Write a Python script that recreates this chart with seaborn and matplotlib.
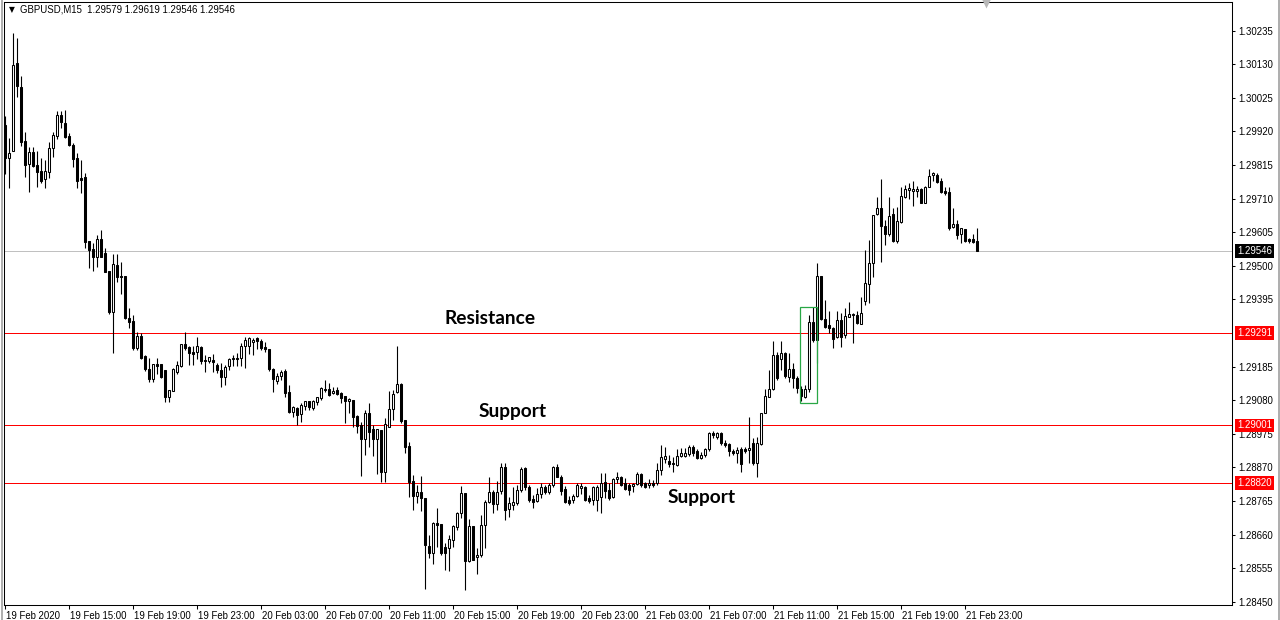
import numpy as np
import pandas as pd
import matplotlib
matplotlib.use("Agg")
import matplotlib.pyplot as plt
import matplotlib.transforms as mtransforms
from matplotlib.patches import Rectangle
from matplotlib.lines import Line2D
import seaborn as sns

# ---------------- data (GBPUSD M15, 19 Feb 2020 11:00 -> 21 Feb 2020 23:45) ----------------
header_text = "GBPUSD,M15  1.29579 1.29619 1.29546 1.29546"

opens = [
    1.29940, 1.29838, 1.29860, 1.30133, 1.30059, 1.29890, 1.29817, 1.29855, 1.29815, 1.29796,
    1.29770, 1.29794, 1.29867, 1.29907, 1.29971, 1.29946, 1.29906, 1.29878, 1.29836, 1.29774,
    1.29779, 1.29578, 1.29553, 1.29529, 1.29583, 1.29539, 1.29484, 1.29355, 1.29503, 1.29469,
    1.29468, 1.29336, 1.29328, 1.29244, 1.29282, 1.29218, 1.29177, 1.29145, 1.29192, 1.29192,
    1.29174, 1.29091, 1.29110, 1.29169, 1.29188, 1.29255, 1.29247, 1.29230, 1.29230, 1.29247,
    1.29206, 1.29202, 1.29206, 1.29190, 1.29174, 1.29153, 1.29188, 1.29208, 1.29211, 1.29211,
    1.29250, 1.29250, 1.29261, 1.29274, 1.29265, 1.29247, 1.29240, 1.29177, 1.29141, 1.29157,
    1.29172, 1.29106, 1.29042, 1.29055, 1.29036, 1.29062, 1.29078, 1.29055, 1.29075, 1.29086,
    1.29112, 1.29114, 1.29102, 1.29112, 1.29102, 1.29094, 1.29079, 1.29081, 1.29031, 1.29002,
    1.28958, 1.29039, 1.28989, 1.28960, 1.28987, 1.28857, 1.28997, 1.29053, 1.29106, 1.29131,
    1.29018, 1.28937, 1.28828, 1.28781, 1.28792, 1.28773, 1.28624, 1.28603, 1.28697, 1.28692,
    1.28620, 1.28617, 1.28643, 1.28685, 1.28726, 1.28789, 1.28578, 1.28687, 1.28589, 1.28596,
    1.28690, 1.28763, 1.28794, 1.28756, 1.28797, 1.28870, 1.28739, 1.28752, 1.28758, 1.28799,
    1.28867, 1.28810, 1.28770, 1.28766, 1.28787, 1.28810, 1.28794, 1.28815, 1.28870, 1.28841,
    1.28801, 1.28768, 1.28768, 1.28781, 1.28805, 1.28810, 1.28773, 1.28768, 1.28768, 1.28776,
    1.28825, 1.28799, 1.28776, 1.28833, 1.28839, 1.28820, 1.28815, 1.28813, 1.28818, 1.28849,
    1.28822, 1.28815, 1.28822, 1.28820, 1.28862, 1.28895, 1.28891, 1.28885, 1.28877, 1.28906,
    1.28906, 1.28912, 1.28935, 1.28922, 1.28898, 1.28909, 1.28927, 1.28978, 1.28964, 1.28978,
    1.28947, 1.28943, 1.28922, 1.28915, 1.28927, 1.28927, 1.28924, 1.28947, 1.28883, 1.28942,
    1.29041, 1.29091, 1.29114, 1.29221, 1.29208, 1.29228, 1.29153, 1.29177, 1.29148, 1.29115,
    1.29091, 1.29114, 1.29325, 1.29268, 1.29468, 1.29333, 1.29315, 1.29305, 1.29279, 1.29331,
    1.29284, 1.29341, 1.29345, 1.29346, 1.29318, 1.29391, 1.29443, 1.29508, 1.29662, 1.29680,
    1.29625, 1.29600, 1.29662, 1.29579, 1.29638, 1.29714, 1.29737, 1.29735, 1.29735, 1.29739,
    1.29697, 1.29747, 1.29784, 1.29784, 1.29766, 1.29735, 1.29732, 1.29620, 1.29631, 1.29600,
    1.29614, 1.29583, 1.29583, 1.29579,
]

highs = [
    1.29969, 1.29899, 1.30227, 1.30211, 1.30093, 1.29917, 1.29872, 1.29872, 1.29860, 1.29836,
    1.29831, 1.29888, 1.29917, 1.29984, 1.29984, 1.29987, 1.29914, 1.29883, 1.29852, 1.29831,
    1.29789, 1.29578, 1.29570, 1.29596, 1.29612, 1.29556, 1.29484, 1.29536, 1.29536, 1.29511,
    1.29468, 1.29367, 1.29346, 1.29292, 1.29289, 1.29221, 1.29211, 1.29192, 1.29211, 1.29192,
    1.29174, 1.29112, 1.29182, 1.29202, 1.29255, 1.29292, 1.29250, 1.29250, 1.29277, 1.29250,
    1.29221, 1.29214, 1.29223, 1.29195, 1.29195, 1.29190, 1.29213, 1.29221, 1.29227, 1.29258,
    1.29279, 1.29279, 1.29274, 1.29277, 1.29270, 1.29263, 1.29240, 1.29180, 1.29166, 1.29174,
    1.29177, 1.29128, 1.29062, 1.29060, 1.29070, 1.29079, 1.29079, 1.29081, 1.29091, 1.29122,
    1.29143, 1.29133, 1.29120, 1.29120, 1.29106, 1.29094, 1.29086, 1.29081, 1.29034, 1.29013,
    1.29049, 1.29072, 1.29002, 1.28989, 1.28987, 1.29023, 1.29110, 1.29112, 1.29249, 1.29135,
    1.29018, 1.28950, 1.28846, 1.28815, 1.28844, 1.28773, 1.28659, 1.28700, 1.28744, 1.28692,
    1.28633, 1.28659, 1.28690, 1.28731, 1.28812, 1.28789, 1.28708, 1.28687, 1.28617, 1.28721,
    1.28768, 1.28839, 1.28799, 1.28828, 1.28883, 1.28883, 1.28778, 1.28810, 1.28815, 1.28872,
    1.28872, 1.28815, 1.28784, 1.28805, 1.28820, 1.28815, 1.28820, 1.28874, 1.28880, 1.28846,
    1.28812, 1.28781, 1.28787, 1.28822, 1.28822, 1.28812, 1.28784, 1.28812, 1.28815, 1.28852,
    1.28852, 1.28820, 1.28836, 1.28857, 1.28843, 1.28836, 1.28820, 1.28822, 1.28857, 1.28853,
    1.28825, 1.28833, 1.28831, 1.28883, 1.28940, 1.28935, 1.28909, 1.28903, 1.28927, 1.28930,
    1.28930, 1.28940, 1.28940, 1.28927, 1.28919, 1.28930, 1.28982, 1.28985, 1.28982, 1.28982,
    1.28956, 1.28945, 1.28927, 1.28935, 1.28935, 1.28935, 1.29028, 1.28961, 1.28966, 1.29040,
    1.29114, 1.29174, 1.29266, 1.29232, 1.29265, 1.29232, 1.29228, 1.29195, 1.29156, 1.29124,
    1.29128, 1.29346, 1.29372, 1.29508, 1.29468, 1.29393, 1.29360, 1.29310, 1.29360, 1.29352,
    1.29367, 1.29388, 1.29352, 1.29360, 1.29404, 1.29550, 1.29581, 1.29659, 1.29714, 1.29770,
    1.29643, 1.29714, 1.29680, 1.29685, 1.29747, 1.29753, 1.29758, 1.29766, 1.29750, 1.29742,
    1.29750, 1.29802, 1.29794, 1.29789, 1.29774, 1.29747, 1.29747, 1.29680, 1.29643, 1.29617,
    1.29614, 1.29586, 1.29600, 1.29619,
]

lows = [
    1.29786, 1.29742, 1.29859, 1.30029, 1.29876, 1.29779, 1.29730, 1.29810, 1.29747, 1.29758,
    1.29744, 1.29775, 1.29841, 1.29896, 1.29930, 1.29899, 1.29876, 1.29810, 1.29744, 1.29727,
    1.29555, 1.29494, 1.29485, 1.29497, 1.29529, 1.29480, 1.29349, 1.29227, 1.29449, 1.29411,
    1.29334, 1.29305, 1.29237, 1.29237, 1.29208, 1.29171, 1.29138, 1.29138, 1.29161, 1.29149,
    1.29073, 1.29073, 1.29110, 1.29161, 1.29185, 1.29237, 1.29190, 1.29190, 1.29208, 1.29192,
    1.29167, 1.29195, 1.29168, 1.29164, 1.29122, 1.29128, 1.29174, 1.29188, 1.29188, 1.29188,
    1.29180, 1.29224, 1.29221, 1.29239, 1.29237, 1.29232, 1.29172, 1.29106, 1.29131, 1.29143,
    1.29091, 1.29041, 1.29027, 1.29002, 1.29011, 1.29049, 1.29049, 1.29049, 1.29065, 1.29081,
    1.29106, 1.29093, 1.29099, 1.29096, 1.29072, 1.29008, 1.29039, 1.28997, 1.28976, 1.28843,
    1.28909, 1.28935, 1.28906, 1.28849, 1.28825, 1.28825, 1.28995, 1.29018, 1.29102, 1.29010,
    1.28914, 1.28778, 1.28737, 1.28758, 1.28735, 1.28489, 1.28586, 1.28567, 1.28622, 1.28596,
    1.28549, 1.28547, 1.28622, 1.28674, 1.28711, 1.28487, 1.28575, 1.28580, 1.28537, 1.28591,
    1.28617, 1.28758, 1.28726, 1.28737, 1.28787, 1.28706, 1.28716, 1.28737, 1.28752, 1.28794,
    1.28799, 1.28763, 1.28742, 1.28763, 1.28773, 1.28787, 1.28787, 1.28810, 1.28839, 1.28784,
    1.28758, 1.28752, 1.28758, 1.28778, 1.28787, 1.28766, 1.28760, 1.28752, 1.28735, 1.28726,
    1.28773, 1.28768, 1.28773, 1.28820, 1.28812, 1.28799, 1.28784, 1.28794, 1.28815, 1.28810,
    1.28805, 1.28805, 1.28810, 1.28815, 1.28846, 1.28883, 1.28872, 1.28857, 1.28874, 1.28902,
    1.28902, 1.28906, 1.28906, 1.28895, 1.28895, 1.28903, 1.28922, 1.28961, 1.28958, 1.28940,
    1.28935, 1.28906, 1.28909, 1.28883, 1.28857, 1.28914, 1.28883, 1.28877, 1.28839, 1.28940,
    1.29039, 1.29089, 1.29112, 1.29143, 1.29174, 1.29148, 1.29138, 1.29117, 1.29102, 1.29079,
    1.29086, 1.29106, 1.29263, 1.29195, 1.29331, 1.29305, 1.29289, 1.29242, 1.29274, 1.29247,
    1.29274, 1.29341, 1.29260, 1.29318, 1.29318, 1.29378, 1.29383, 1.29466, 1.29659, 1.29513,
    1.29565, 1.29593, 1.29575, 1.29572, 1.29635, 1.29711, 1.29708, 1.29687, 1.29716, 1.29697,
    1.29697, 1.29746, 1.29766, 1.29760, 1.29729, 1.29721, 1.29612, 1.29617, 1.29583, 1.29572,
    1.29575, 1.29570, 1.29570, 1.29546,
]

closes = [
    1.29838, 1.29854, 1.30128, 1.30063, 1.29888, 1.29815, 1.29857, 1.29812, 1.29794, 1.29766,
    1.29796, 1.29867, 1.29909, 1.29971, 1.29949, 1.29902, 1.29878, 1.29833, 1.29766, 1.29768,
    1.29575, 1.29550, 1.29529, 1.29583, 1.29529, 1.29482, 1.29355, 1.29505, 1.29466, 1.29464,
    1.29336, 1.29325, 1.29244, 1.29282, 1.29211, 1.29177, 1.29146, 1.29192, 1.29188, 1.29153,
    1.29091, 1.29112, 1.29177, 1.29190, 1.29255, 1.29244, 1.29227, 1.29225, 1.29250, 1.29202,
    1.29202, 1.29214, 1.29199, 1.29174, 1.29153, 1.29185, 1.29208, 1.29211, 1.29208, 1.29250,
    1.29268, 1.29274, 1.29268, 1.29265, 1.29242, 1.29239, 1.29177, 1.29145, 1.29156, 1.29167,
    1.29103, 1.29044, 1.29058, 1.29034, 1.29065, 1.29078, 1.29058, 1.29078, 1.29089, 1.29119,
    1.29116, 1.29095, 1.29110, 1.29099, 1.29086, 1.29079, 1.29084, 1.29027, 1.29000, 1.28959,
    1.29039, 1.28982, 1.28960, 1.28989, 1.28857, 1.29005, 1.29053, 1.29099, 1.29131, 1.29016,
    1.28935, 1.28825, 1.28781, 1.28792, 1.28773, 1.28627, 1.28603, 1.28697, 1.28690, 1.28601,
    1.28603, 1.28645, 1.28687, 1.28728, 1.28789, 1.28578, 1.28687, 1.28580, 1.28596, 1.28690,
    1.28763, 1.28794, 1.28756, 1.28794, 1.28870, 1.28737, 1.28760, 1.28763, 1.28799, 1.28864,
    1.28810, 1.28768, 1.28763, 1.28787, 1.28810, 1.28794, 1.28815, 1.28870, 1.28841, 1.28797,
    1.28763, 1.28758, 1.28781, 1.28815, 1.28812, 1.28768, 1.28766, 1.28808, 1.28810, 1.28822,
    1.28797, 1.28773, 1.28833, 1.28839, 1.28815, 1.28801, 1.28799, 1.28818, 1.28849, 1.28815,
    1.28810, 1.28822, 1.28815, 1.28862, 1.28903, 1.28906, 1.28880, 1.28880, 1.28906, 1.28914,
    1.28914, 1.28935, 1.28916, 1.28898, 1.28909, 1.28927, 1.28978, 1.28971, 1.28976, 1.28945,
    1.28940, 1.28922, 1.28914, 1.28924, 1.28880, 1.28922, 1.28931, 1.28883, 1.28947, 1.29039,
    1.29093, 1.29114, 1.29221, 1.29148, 1.29228, 1.29156, 1.29177, 1.29148, 1.29117, 1.29093,
    1.29114, 1.29325, 1.29268, 1.29468, 1.29333, 1.29308, 1.29305, 1.29270, 1.29331, 1.29279,
    1.29343, 1.29349, 1.29349, 1.29320, 1.29352, 1.29447, 1.29510, 1.29659, 1.29680, 1.29625,
    1.29600, 1.29656, 1.29579, 1.29641, 1.29718, 1.29739, 1.29742, 1.29739, 1.29739, 1.29697,
    1.29747, 1.29781, 1.29791, 1.29763, 1.29732, 1.29727, 1.29617, 1.29631, 1.29596, 1.29617,
    1.29579, 1.29579, 1.29575, 1.29546,
]

xtick_labels = [
    "19 Feb 2020", "19 Feb 15:00", "19 Feb 19:00", "19 Feb 23:00",
    "20 Feb 03:00", "20 Feb 07:00", "20 Feb 11:00", "20 Feb 15:00",
    "20 Feb 19:00", "20 Feb 23:00", "21 Feb 03:00", "21 Feb 07:00",
    "21 Feb 11:00", "21 Feb 15:00", "21 Feb 19:00", "21 Feb 23:00",
]
bars_per_label = 16

ytick_values = [
    1.30235, 1.30130, 1.30025, 1.29920, 1.29815, 1.29710, 1.29605, 1.29500, 1.29395,
    1.29185, 1.29080, 1.28975, 1.28870, 1.28765, 1.28660, 1.28555, 1.28450,
]

current_price = 1.29546
level_prices = [1.29291, 1.29001, 1.28820]
level_texts = ["Resistance", "Support", "Support"]

# ---------------- styling ----------------
sns.set_theme(style="white")
plt.rcParams["font.family"] = ["Liberation Sans", "DejaVu Sans"]

df = pd.DataFrame({"open": opens, "high": highs, "low": lows, "close": closes})
df["idx"] = np.arange(len(df))
df["bull"] = df["close"] >= df["open"]

W, H = 1280, 620
fig = plt.figure(figsize=(W / 100, H / 100), dpi=100)
fig.patch.set_facecolor("white")
ax = fig.add_axes([4 / W, 15 / H, 1228 / W, 603 / H])
ax.set_facecolor("white")

# horizontal price lines (crisp 1 px)
ax.axhline(current_price, color="#c0c0c0", lw=0.72, zorder=1, antialiased=False)
for p in level_prices:
    ax.axhline(p, color="#ff0000", lw=0.72, zorder=1, antialiased=False)

# candles: wicks + bodies
ax.vlines(df["idx"], df["low"], df["high"], color="black", lw=0.8, zorder=2)
body_bottom = np.minimum(df["open"], df["close"])
body_height = np.abs(df["close"] - df["open"])
ax.bar(df["idx"], body_height, bottom=body_bottom, width=0.5,
       color=np.where(df["bull"], "white", "black"),
       edgecolor="black", linewidth=0.75, zorder=3)

# green highlight box around breakout candles
ax.add_patch(Rectangle((198.75, 1.29070), 4.15, 0.00301, fill=False,
                       edgecolor="#28a745", lw=0.9, zorder=4))

# labels for the levels
label_font = ["Lato", "DejaVu Sans"]
ax.text(121.2, 1.29318, level_texts[0], fontsize=13.8, fontweight="bold",
        family=label_font, ha="center", va="baseline", color="black", zorder=5)
ax.text(127.0, 1.29027, level_texts[1], fontsize=13.8, fontweight="bold",
        family=label_font, ha="center", va="baseline", color="black", zorder=5)
ax.text(174.1, 1.28758, level_texts[2], fontsize=13.8, fontweight="bold",
        family=label_font, ha="center", va="baseline", color="black", zorder=5)

# axes limits
ax.set_xlim(-0.25, 306.75)
ax.set_ylim(1.284398, 1.303247)

# y axis on the right
ax.yaxis.tick_right()
ax.set_yticks(ytick_values)
ax.set_yticklabels([f"{v:.5f}" for v in ytick_values])
ax.tick_params(axis="y", which="both", right=True, left=False, length=2.5, width=0.75,
               pad=2, labelsize=6.9, colors="black", direction="out")

# x axis
xt = [i * bars_per_label for i in range(len(xtick_labels))]
ax.set_xticks(xt)
ax.set_xticklabels(xtick_labels, ha="left")
ax.tick_params(axis="x", which="both", bottom=True, length=3, width=0.75, pad=1.5,
               labelsize=6.9, colors="black", direction="out")
offset = mtransforms.ScaledTranslation(1 / 100, 0, fig.dpi_scale_trans)
for lbl in ax.get_xticklabels():
    lbl.set_transform(lbl.get_transform() + offset)

for s in ax.spines.values():
    s.set_color("black")
    s.set_linewidth(0.75)
ax.grid(False)

# price tags on the right axis
trans = mtransforms.blended_transform_factory(ax.transAxes, ax.transData)
tag_specs = [(current_price, "black")] + [(p, "#ff0000") for p in level_prices]
for p, c in tag_specs:
    ax.text(1.0 + 5 / 1228, p, f"{p:.5f}", transform=trans, ha="left", va="center",
            fontsize=6.9, color="white", clip_on=False, zorder=10,
            bbox=dict(boxstyle="square,pad=0.2", facecolor=c, edgecolor="none"))

# header text
fig.text(9 / W, 1 - 10 / H, "\u25BC", fontsize=5.5, color="black", va="center", ha="left",
         family=["DejaVu Sans"])
fig.text(20 / W, 1 - 10 / H, header_text, fontsize=6.9, color="black", va="center", ha="left")
# small shift marker at top
fig.text(986 / W, 1 - 4 / H, "\u25BC", fontsize=8.5, color="#b8b8b8", va="center", ha="center",
         family=["DejaVu Sans"])

# window borders
fig.add_artist(Line2D([1.5 / W, 1.5 / W], [0, 1], transform=fig.transFigure, color="#a0a0a0", lw=1.2))
fig.add_artist(Line2D([1278.5 / W, 1278.5 / W], [0, 1], transform=fig.transFigure, color="#a0a0a0", lw=1.2))

fig.savefig("out.png", dpi=100, facecolor="white")
